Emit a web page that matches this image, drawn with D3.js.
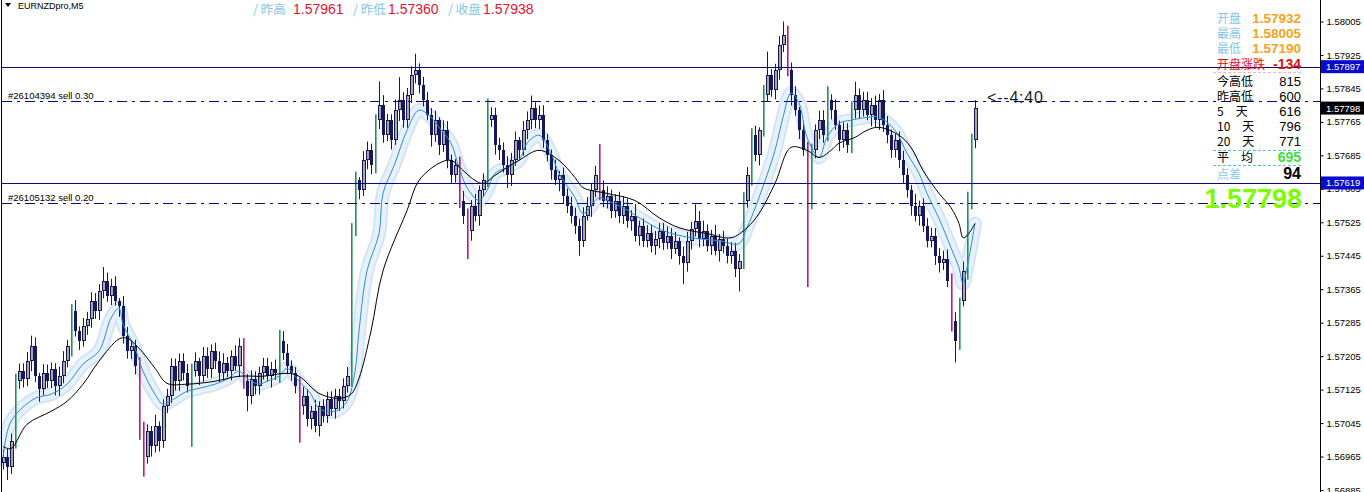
<!DOCTYPE html>
<html><head><meta charset="utf-8">
<script src="https://cdn.jsdelivr.net/npm/d3@7"></script>
<style>html,body{margin:0;padding:0;background:#fff;overflow:hidden}</style>
</head><body>
<svg id="c" width="1364" height="492"></svg>
<script>
// ---------------- DATA ----------------
const symbol = "EURNZDpro,M5";
const opens = [1.56950,1.56965,1.56941,1.57001,1.57145,1.57169,1.57150,1.57193,1.57229,1.57157,
1.57126,1.57164,1.57145,1.57174,1.57133,1.57157,1.57193,1.57229,1.57313,1.57265,
1.57241,1.57277,1.57294,1.57337,1.57313,1.57361,1.57385,1.57349,1.57373,1.57337,
1.57325,1.57253,1.57217,1.57229,1.57181,1.57025,1.56965,1.57025,1.56989,1.57037,
1.57001,1.57085,1.57109,1.57181,1.57145,1.57193,1.57164,1.57133,1.57169,1.57193,
1.57157,1.57205,1.57174,1.57217,1.57193,1.57164,1.57188,1.57169,1.57205,1.57181,
1.57229,1.57145,1.57109,1.57150,1.57133,1.57164,1.57181,1.57157,1.57174,1.57164,
1.57241,1.57212,1.57181,1.57164,1.57133,1.57085,1.57109,1.57054,1.57073,1.57037,
1.57085,1.57061,1.57102,1.57078,1.57109,1.57097,1.57133,1.57157,1.57505,1.57625,
1.57601,1.57673,1.57697,1.57661,1.57769,1.57805,1.57733,1.57769,1.57721,1.57793,
1.57817,1.57769,1.57829,1.57877,1.57889,1.57853,1.57817,1.57781,1.57733,1.57769,
1.57709,1.57745,1.57673,1.57637,1.57661,1.57577,1.57541,1.57505,1.57565,1.57541,
1.57601,1.57625,1.57769,1.57781,1.57709,1.57697,1.57661,1.57637,1.57673,1.57721,
1.57697,1.57745,1.57769,1.57798,1.57769,1.57781,1.57721,1.57685,1.57649,1.57625,
1.57637,1.57589,1.57565,1.57541,1.57517,1.57481,1.57541,1.57565,1.57601,1.57637,
1.57601,1.57577,1.57589,1.57553,1.57577,1.57541,1.57565,1.57529,1.57541,1.57493,
1.57517,1.57481,1.57500,1.57469,1.57486,1.57505,1.57476,1.57493,1.57462,1.57481,
1.57445,1.57428,1.57481,1.57510,1.57529,1.57486,1.57505,1.57469,1.57493,1.57457,
1.57486,1.57469,1.57445,1.57457,1.57414,1.57433,1.57577,1.57637,1.57733,1.57685,
1.57745,1.57829,1.57877,1.57841,1.57889,1.57949,1.57973,1.57889,1.57829,1.57793,
1.57745,1.57697,1.57577,1.57697,1.57745,1.57769,1.57733,1.57817,1.57793,1.57757,
1.57721,1.57745,1.57709,1.57793,1.57829,1.57793,1.57817,1.57781,1.57805,1.57769,
1.57817,1.57757,1.57733,1.57697,1.57721,1.57673,1.57637,1.57601,1.57565,1.57541,
1.57565,1.57517,1.57481,1.57493,1.57445,1.57428,1.57438,1.57385,1.57289,1.57241,
1.57337,1.57409,1.57577,1.57721];
const highs = [1.56982,1.56983,1.57020,1.57163,1.57187,1.57188,1.57215,1.57254,1.57250,1.57165,
1.57186,1.57185,1.57190,1.57188,1.57180,1.57217,1.57244,1.57329,1.57339,1.57276,
1.57296,1.57311,1.57358,1.57356,1.57377,1.57418,1.57405,1.57390,1.57396,1.57344,
1.57349,1.57275,1.57243,1.57244,1.57202,1.57048,1.57042,1.57038,1.57065,1.57049,
1.57102,1.57127,1.57200,1.57199,1.57211,1.57212,1.57186,1.57187,1.57214,1.57201,
1.57227,1.57226,1.57233,1.57237,1.57216,1.57212,1.57203,1.57219,1.57231,1.57248,
1.57248,1.57162,1.57171,1.57169,1.57180,1.57201,1.57201,1.57191,1.57197,1.57268,
1.57265,1.57234,1.57195,1.57179,1.57154,1.57132,1.57126,1.57086,1.57101,1.57097,
1.57102,1.57120,1.57121,1.57127,1.57127,1.57152,1.57179,1.57523,1.57646,1.57633,
1.57695,1.57718,1.57713,1.57783,1.57862,1.57829,1.57784,1.57783,1.57819,1.57872,
1.57836,1.57846,1.57898,1.57928,1.57905,1.57873,1.57837,1.57798,1.57792,1.57776,
1.57769,1.57767,1.57687,1.57676,1.57682,1.57600,1.57558,1.57578,1.57593,1.57613,
1.57642,1.57821,1.57800,1.57799,1.57727,1.57716,1.57683,1.57691,1.57742,1.57729,
1.57767,1.57790,1.57828,1.57812,1.57804,1.57805,1.57736,1.57699,1.57675,1.57648,
1.57656,1.57606,1.57586,1.57560,1.57533,1.57561,1.57585,1.57618,1.57660,1.57712,
1.57625,1.57611,1.57603,1.57592,1.57598,1.57588,1.57582,1.57554,1.57569,1.57529,
1.57534,1.57518,1.57519,1.57504,1.57523,1.57524,1.57515,1.57511,1.57502,1.57489,
1.57467,1.57502,1.57526,1.57568,1.57552,1.57529,1.57520,1.57507,1.57519,1.57497,
1.57505,1.57486,1.57478,1.57476,1.57449,1.57597,1.57657,1.57750,1.57756,1.57752,
1.57853,1.57933,1.57891,1.57904,1.57970,1.58005,1.57995,1.57907,1.57850,1.57801,
1.57767,1.57718,1.57713,1.57759,1.57792,1.57793,1.57850,1.57831,1.57819,1.57768,
1.57764,1.57762,1.57814,1.57861,1.57845,1.57837,1.57837,1.57822,1.57828,1.57832,
1.57841,1.57779,1.57747,1.57736,1.57742,1.57696,1.57654,1.57614,1.57593,1.57577,
1.57582,1.57535,1.57512,1.57511,1.57463,1.57457,1.57460,1.57403,1.57310,1.57345,
1.57431,1.57598,1.57737,1.57817];
const lows = [1.56934,1.56909,1.56923,1.56984,1.57127,1.57130,1.57133,1.57169,1.57143,1.57096,
1.57111,1.57129,1.57129,1.57111,1.57110,1.57140,1.57178,1.57204,1.57252,1.57220,
1.57228,1.57256,1.57273,1.57294,1.57292,1.57343,1.57335,1.57327,1.57326,1.57299,
1.57235,1.57199,1.57198,1.57161,1.57005,1.56917,1.56948,1.56965,1.56975,1.56977,
1.56986,1.57069,1.57093,1.57123,1.57122,1.57147,1.57118,1.56988,1.57156,1.57136,
1.57144,1.57153,1.57153,1.57174,1.57143,1.57146,1.57155,1.57147,1.57170,1.57155,
1.57127,1.57073,1.57090,1.57113,1.57113,1.57149,1.57145,1.57130,1.57148,1.57141,
1.57196,1.57162,1.57146,1.57116,1.56998,1.57065,1.57037,1.57030,1.57023,1.57013,
1.57046,1.57045,1.57062,1.57056,1.57074,1.57080,1.57118,1.57132,1.57492,1.57580,
1.57588,1.57652,1.57640,1.57642,1.57748,1.57715,1.57719,1.57699,1.57710,1.57767,
1.57751,1.57751,1.57810,1.57857,1.57833,1.57802,1.57769,1.57706,1.57717,1.57686,
1.57693,1.57654,1.57619,1.57620,1.57559,1.57521,1.57437,1.57481,1.57527,1.57517,
1.57586,1.57609,1.57753,1.57687,1.57674,1.57644,1.57607,1.57612,1.57660,1.57676,
1.57684,1.57724,1.57748,1.57750,1.57748,1.57703,1.57671,1.57627,1.57614,1.57599,
1.57571,1.57547,1.57522,1.57497,1.57445,1.57466,1.57529,1.57538,1.57585,1.57578,
1.57561,1.57558,1.57535,1.57536,1.57523,1.57521,1.57512,1.57505,1.57479,1.57469,
1.57466,1.57465,1.57453,1.57447,1.57463,1.57459,1.57461,1.57437,1.57449,1.57424,
1.57377,1.57407,1.57460,1.57491,1.57465,1.57468,1.57455,1.57447,1.57446,1.57431,
1.57451,1.57427,1.57426,1.57394,1.57360,1.57413,1.57560,1.57613,1.57671,1.57661,
1.57730,1.57813,1.57825,1.57819,1.57866,1.57932,1.57874,1.57804,1.57780,1.57724,
1.57684,1.57370,1.57556,1.57678,1.57724,1.57715,1.57719,1.57771,1.57746,1.57695,
1.57703,1.57691,1.57690,1.57773,1.57773,1.57778,1.57769,1.57754,1.57753,1.57746,
1.57741,1.57714,1.57679,1.57680,1.57655,1.57617,1.57584,1.57541,1.57527,1.57517,
1.57502,1.57465,1.57465,1.57423,1.57405,1.57411,1.57370,1.57264,1.57190,1.57220,
1.57324,1.57388,1.57556,1.57702];
const closes = [1.56965,1.56941,1.57001,1.57145,1.57169,1.57150,1.57193,1.57229,1.57157,1.57126,
1.57164,1.57145,1.57174,1.57133,1.57157,1.57193,1.57229,1.57313,1.57265,1.57241,
1.57277,1.57294,1.57337,1.57313,1.57361,1.57385,1.57349,1.57373,1.57337,1.57325,
1.57253,1.57217,1.57229,1.57181,1.57025,1.56965,1.57025,1.56989,1.57037,1.57001,
1.57085,1.57109,1.57181,1.57145,1.57193,1.57164,1.57133,1.57169,1.57193,1.57157,
1.57205,1.57174,1.57217,1.57193,1.57164,1.57188,1.57169,1.57205,1.57181,1.57229,
1.57145,1.57109,1.57150,1.57133,1.57164,1.57181,1.57157,1.57174,1.57164,1.57241,
1.57212,1.57181,1.57164,1.57133,1.57085,1.57109,1.57054,1.57073,1.57037,1.57085,
1.57061,1.57102,1.57078,1.57109,1.57097,1.57133,1.57157,1.57505,1.57625,1.57601,
1.57673,1.57697,1.57661,1.57769,1.57805,1.57733,1.57769,1.57721,1.57793,1.57817,
1.57769,1.57829,1.57877,1.57889,1.57853,1.57817,1.57781,1.57733,1.57769,1.57709,
1.57745,1.57673,1.57637,1.57661,1.57577,1.57541,1.57505,1.57565,1.57541,1.57601,
1.57625,1.57769,1.57781,1.57709,1.57697,1.57661,1.57637,1.57673,1.57721,1.57697,
1.57745,1.57769,1.57798,1.57769,1.57781,1.57721,1.57685,1.57649,1.57625,1.57637,
1.57589,1.57565,1.57541,1.57517,1.57481,1.57541,1.57565,1.57601,1.57637,1.57601,
1.57577,1.57589,1.57553,1.57577,1.57541,1.57565,1.57529,1.57541,1.57493,1.57517,
1.57481,1.57500,1.57469,1.57486,1.57505,1.57476,1.57493,1.57462,1.57481,1.57445,
1.57428,1.57481,1.57510,1.57529,1.57486,1.57505,1.57469,1.57493,1.57457,1.57486,
1.57469,1.57445,1.57457,1.57414,1.57433,1.57577,1.57637,1.57733,1.57685,1.57745,
1.57829,1.57877,1.57841,1.57889,1.57949,1.57973,1.57889,1.57829,1.57793,1.57745,
1.57697,1.57577,1.57697,1.57745,1.57769,1.57733,1.57817,1.57793,1.57757,1.57721,
1.57745,1.57709,1.57793,1.57829,1.57793,1.57817,1.57781,1.57805,1.57769,1.57817,
1.57757,1.57733,1.57697,1.57721,1.57673,1.57637,1.57601,1.57565,1.57541,1.57565,
1.57517,1.57481,1.57493,1.57445,1.57428,1.57438,1.57385,1.57289,1.57241,1.57337,
1.57409,1.57577,1.57721,1.57798];

// fast moving average (blue) read at bar indices
const fastIdx = [0,2,8,12,16,20,24,27,29,30,33,35,38,40,43,46,49,53,56,59,61,64,66,69,71,74,77,79,83,86,88,89,91,94,95,98,101,104,107,109,112,114,116,119,121,123,126,129,131,134,137,139,143,145,149,151,155,159,165,172,179,184,186,189,193,195,197,199,201,204,206,209,212,216,219,223,226,229,231,234,237,239,240,241,243];
const fastVal = [1.56960,1.57049,1.57104,1.57114,1.57138,1.57186,1.57217,1.57296,1.57320,1.57282,1.57224,1.57169,1.57114,1.57090,1.57104,1.57121,1.57128,1.57138,1.57150,1.57169,1.57152,1.57138,1.57145,1.57157,1.57176,1.57145,1.57114,1.57080,1.57073,1.57097,1.57169,1.57265,1.57409,1.57498,1.57594,1.57666,1.57745,1.57793,1.57776,1.57752,1.57714,1.57656,1.57608,1.57577,1.57601,1.57642,1.57656,1.57673,1.57714,1.57733,1.57690,1.57642,1.57584,1.57546,1.57584,1.57577,1.57560,1.57536,1.57505,1.57488,1.57481,1.57474,1.57512,1.57584,1.57697,1.57776,1.57834,1.57810,1.57728,1.57680,1.57728,1.57762,1.57769,1.57776,1.57776,1.57745,1.57690,1.57642,1.57594,1.57534,1.57464,1.57416,1.57378,1.57416,1.57522];
// slow moving average (black)
const slowIdx = [0,2,6,12,16,20,24,29,31,34,38,41,46,53,59,65,71,74,79,84,87,89,92,95,101,104,109,112,115,118,120,123,126,129,134,139,143,145,151,158,164,169,176,182,186,189,193,197,201,204,207,209,213,216,219,224,227,230,234,237,239,240,241,243];
const slowVal = [1.56989,1.56984,1.57042,1.57073,1.57097,1.57138,1.57193,1.57246,1.57248,1.57224,1.57176,1.57140,1.57138,1.57145,1.57157,1.57157,1.57164,1.57157,1.57116,1.57104,1.57114,1.57152,1.57265,1.57409,1.57553,1.57625,1.57666,1.57673,1.57649,1.57625,1.57618,1.57637,1.57656,1.57673,1.57697,1.57673,1.57632,1.57608,1.57594,1.57577,1.57536,1.57512,1.57498,1.57488,1.57512,1.57546,1.57618,1.57704,1.57697,1.57680,1.57697,1.57714,1.57728,1.57745,1.57752,1.57733,1.57704,1.57649,1.57594,1.57560,1.57522,1.57488,1.57493,1.57522];

const yTicks = [1.56885,1.56965,1.57045,1.57125,1.57205,1.57285,1.57365,1.57445,1.57525,1.57605,1.57685,1.57765,1.57845,1.57925,1.58005];
const levelPrices = [1.57897, 1.57619];
const orderPrices = [1.57815, 1.57571];
const orderLabels = ["#26104394 sell 0.30", "#26105132 sell 0.20"];
const bidPrice = 1.57798;
const timerText = "<--4:40";

const titleLabels = ["昨高", "昨低", "收盘"];
const titleValues = ["1.57961", "1.57360", "1.57938"];

const dayLabels = ["开盘", "最高", "最低"];
const dayValues = ["1.57932", "1.58005", "1.57190"];
const openChangeLabel = "开盘涨跌";
const openChangeValue = "-134";
const rangeLabels = ["今高低", "昨高低", "5\u2003天", "10\u2003天", "20\u2003天"];
const rangeValues = [815, 600, 616, 796, 771];
const avgLabel = "平\u2003均";
const avgValue = 695;
const spreadLabel = "点差";
const spreadValue = 94;
const bigPrice = "1.57798";

// ---------------- DRAW ----------------
const svg = d3.select("#c");
const axisX = 1320;
const y = d3.scaleLinear().domain([1.56885, 1.58005]).range([490, 21.5]);
const x = d3.scaleLinear().domain([0, 243]).range([3, 975]);
const sans = "'Liberation Sans', Arial, sans-serif";
const cjk = "'Noto Sans CJK SC', 'Liberation Sans', sans-serif";
const navy = "#17175c";

svg.append("rect").attr("width", 1364).attr("height", 492).attr("fill", "#fff");

// moving average band + lines
const idxPairs = (ix, v) => ix.map((d, k) => [d, v[k]]);
const line = d3.line().x(d => x(d[0])).y(d => y(d[1])).curve(d3.curveCatmullRom.alpha(0.5));
const fastPts = idxPairs(fastIdx, fastVal);
svg.append("path").attr("d", line(fastPts)).attr("fill", "none")
  .attr("stroke", "#d3e4f6").attr("stroke-width", 14).attr("stroke-linejoin", "round").attr("stroke-linecap", "round");
svg.append("path").attr("d", line(fastPts)).attr("fill", "none")
  .attr("stroke", "#e9f2fc").attr("stroke-width", 10).attr("stroke-linejoin", "round").attr("stroke-linecap", "round");

// candles
const bars = d3.range(closes.length).map(i => ({i, o: opens[i], h: highs[i], l: lows[i], c: closes[i]}));
const g = svg.append("g");
bars.forEach(b => {
  const cx = Math.round(x(b.i));
  const up = b.c >= b.o;
  const big = (b.h - b.l) > 0.0012;
  const top = Math.round(y(Math.max(b.o, b.c))), bot = Math.round(y(Math.min(b.o, b.c)));
  if (big) {
    g.append("rect").attr("x", cx).attr("y", y(b.h)).attr("width", 1.6).attr("height", y(b.l) - y(b.h))
      .attr("fill", up ? "#23905a" : "#c2186e");
    return;
  }
  g.append("rect").attr("x", cx).attr("y", y(b.h)).attr("width", 1).attr("height", y(b.l) - y(b.h))
    .attr("fill", navy);
  const hgt = Math.max(1, bot - top);
  if (up) {
    g.append("rect").attr("x", cx - 1).attr("y", top).attr("width", 4).attr("height", hgt).attr("fill", navy);
    if (hgt > 2) g.append("rect").attr("x", cx).attr("y", top + 1).attr("width", 2).attr("height", hgt - 2).attr("fill", "#a8a8a8");
  } else {
    g.append("rect").attr("x", cx - 1).attr("y", top).attr("width", 3).attr("height", hgt).attr("fill", navy);
  }
});

svg.append("path").attr("d", line(fastPts)).attr("fill", "none").attr("stroke", "#2b8fd6").attr("stroke-width", 1);
svg.append("path").attr("d", line(idxPairs(slowIdx, slowVal))).attr("fill", "none").attr("stroke", "#000").attr("stroke-width", 1);

// horizontal levels
levelPrices.forEach(p => {
  const yy = Math.round(y(p)) + 0.5;
  svg.append("line").attr("x1", 2).attr("x2", axisX).attr("y1", yy).attr("y2", yy).attr("stroke", "#0a0a78").attr("stroke-width", 1);
});
orderPrices.forEach((p, k) => {
  const yy = Math.round(y(p)) + 0.5;
  svg.append("line").attr("x1", 2).attr("x2", axisX).attr("y1", yy).attr("y2", yy)
    .attr("stroke", "#0a0a78").attr("stroke-width", 1).attr("stroke-dasharray", "10,5,3,5");
  svg.append("text").attr("x", 8).attr("y", yy - 3).attr("font-family", sans).attr("font-size", 9.5)
    .attr("fill", "#000").text(orderLabels[k]);
});

// timer
svg.append("text").attr("x", x(243) + 12).attr("y", y(bidPrice) - 5).attr("font-family", sans)
  .attr("font-size", 16).attr("letter-spacing", 0.8).attr("fill", "#222").text(timerText);

// left border & axis
svg.append("line").attr("x1", 1.5).attr("x2", 1.5).attr("y1", 0).attr("y2", 492).attr("stroke", "#000");
svg.append("line").attr("x1", axisX + 0.5).attr("x2", axisX + 0.5).attr("y1", 0).attr("y2", 492).attr("stroke", "#000");
const ax = svg.append("g").attr("transform", `translate(${axisX + 0.5},0)`)
  .call(d3.axisRight(y).tickValues(yTicks).tickSize(3).tickPadding(3).tickFormat(d3.format(".5f")));
ax.select(".domain").remove();
ax.selectAll("text").attr("font-family", sans).attr("font-size", 9.5).attr("fill", "#000");
ax.selectAll("line").attr("stroke", "#000");

// price boxes on axis
const boxPrices = [levelPrices[0], bidPrice, levelPrices[1]];
const boxFill = ["#0a0acc", "#000", "#0a0acc"];
boxPrices.forEach((p, k) => {
  const yy = y(p);
  svg.append("rect").attr("x", axisX + 1).attr("y", yy - 6.5).attr("width", 43).attr("height", 13).attr("fill", boxFill[k]);
  svg.append("text").attr("x", axisX + 6).attr("y", yy + 3.5).attr("font-family", sans).attr("font-size", 9.5)
    .attr("fill", "#fff").text(d3.format(".5f")(p));
});

// symbol
svg.append("path").attr("d", "M5,3 L11,3 L8,7 Z").attr("fill", "#000");
svg.append("text").attr("x", 18).attr("y", 9).attr("font-family", sans).attr("font-size", 9).attr("fill", "#000").text(symbol);

// title line
const titleX = [253, 353, 448];
const titleValX = [293, 388, 483];
titleLabels.forEach((t, k) => {
  svg.append("text").attr("x", titleX[k]).attr("y", 14).attr("font-family", cjk).attr("font-size", 12.5)
    .attr("fill", "#86c5e6").text("/ " + t);
  svg.append("text").attr("x", titleValX[k]).attr("y", 14).attr("font-family", sans).attr("font-size", 14)
    .attr("fill", "#e0142f").text(titleValues[k]);
});

// right info panel
const pL = 1217, pR = 1301;
const rowText = (label, value, yy, lc, vc, vsize, vweight) => {
  svg.append("text").attr("x", pL).attr("y", yy).attr("font-family", cjk).attr("font-size", 12).attr("fill", lc).text(label);
  svg.append("text").attr("x", pR).attr("y", yy).attr("text-anchor", "end").attr("font-family", sans)
    .attr("font-size", vsize).attr("font-weight", vweight).attr("fill", vc).text(value);
};
const dayRowY = [23, 38, 53];
dayLabels.forEach((l, k) => rowText(l, dayValues[k], dayRowY[k], "#86c5e6", "#f5a31a", 13.5, "bold"));
rowText(openChangeLabel, openChangeValue, 69, "#e01010", "#e01010", 14, "bold");
svg.append("line").attr("x1", 1213).attr("x2", 1302).attr("y1", 72.5).attr("y2", 72.5)
  .attr("stroke", "#f4b8b8").attr("stroke-dasharray", "3,2");
const rangeY = [86, 101, 116, 131, 146];
rangeLabels.forEach((l, k) => rowText(l, rangeValues[k], rangeY[k], "#000", "#000", 13, "normal"));
svg.append("line").attr("x1", 1213).attr("x2", 1302).attr("y1", 150.5).attr("y2", 150.5)
  .attr("stroke", "#58c3c3").attr("stroke-dasharray", "3,2");
rowText(avgLabel, avgValue, 162, "#000", "#3ee03e", 14, "bold");
svg.append("line").attr("x1", 1213).attr("x2", 1302).attr("y1", 165.5).attr("y2", 165.5)
  .attr("stroke", "#58c3c3").attr("stroke-dasharray", "3,2");
rowText(spreadLabel, spreadValue, 179, "#86c5e6", "#000", 16, "bold");
svg.append("text").attr("x", 1302).attr("y", 208).attr("text-anchor", "end").attr("font-family", sans)
  .attr("font-size", 27).attr("font-weight", "bold").attr("fill", "#7cfc00").text(bigPrice);
</script>
</body></html>
